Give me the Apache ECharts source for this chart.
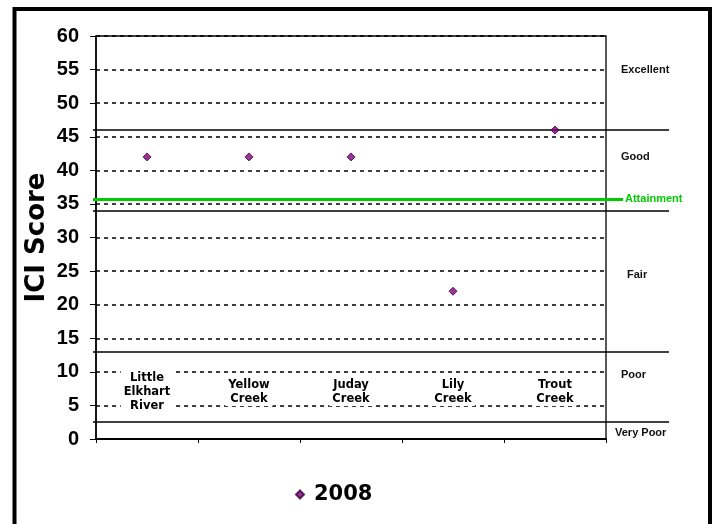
<!DOCTYPE html>
<html>
<head>
<meta charset="utf-8">
<script src="https://cdn.jsdelivr.net/npm/echarts@6/dist/echarts.min.js"></script>
<style>
html,body{margin:0;padding:0;background:#fff;}
#chart{width:712px;height:524px;}
</style>
</head>
<body>
<div id="chart"></div>
<script>
// ---- data ----
const categories = ["Little\nElkhart\nRiver", "Yellow\nCreek", "Juday\nCreek", "Lily\nCreek", "Trout\nCreek"];
const scores2008 = [42, 42, 42, 22, 46];
const seriesName = "2008";
const yTicks = [0, 5, 10, 15, 20, 25, 30, 35, 40, 45, 50, 55, 60];
const bandEdges = [46, 34, 13, 2.5];
const bandNames = ["Excellent", "Good", "Fair", "Poor", "Very Poor"];
const attainment = 35.7;
const attainmentLabel = "Attainment";
const yTitle = "ICI Score";

const chart = echarts.init(document.getElementById('chart'), null, {renderer: 'canvas'});

const bandLabelPos = [[621, 70], [621, 157], [627, 275], [621, 375], [615, 433]];

const option = {
  animation: false,
  backgroundColor: '#fff',
  grid: [
    {left: 96, top: 36, width: 510, height: 403, show: true, borderColor: '#000', borderWidth: 1.3, backgroundColor: 'transparent'},
    {left: 93, top: 36, width: 576, height: 403},
    {left: 93, top: 36, width: 530, height: 403}
  ],
  xAxis: [
    {
      gridIndex: 0, type: 'category', data: categories, boundaryGap: true, z: 5,
      axisLine: {show: true, lineStyle: {color: '#000', width: 2}},
      axisTick: {show: true, length: 4, lineStyle: {color: '#000', width: 1}},
      axisLabel: {
        interval: 0, margin: -47, verticalAlign: 'middle',
        fontFamily: 'DejaVu Sans', fontWeight: 'bold', fontSize: 11.5, lineHeight: 14,
        color: '#000', backgroundColor: '#fff', padding: [0, 3]
      },
      splitLine: {show: false}
    },
    {gridIndex: 1, type: 'value', min: 0, max: 1, show: false},
    {gridIndex: 2, type: 'value', min: 0, max: 1, show: false}
  ],
  yAxis: [
    {
      gridIndex: 0, type: 'value', min: 0, max: 60, interval: 5,
      name: yTitle, nameLocation: 'middle', nameRotate: 90, nameGap: 46, nameMoveOverlap: false,
      nameTextStyle: {fontFamily: 'DejaVu Sans', fontWeight: 'bold', fontSize: 26, color: '#000'},
      axisLine: {show: true, lineStyle: {color: '#000', width: 1.5}},
      axisTick: {show: true, length: 6, lineStyle: {color: '#000', width: 1}},
      axisLabel: {
        margin: 17, fontFamily: 'Liberation Sans', fontWeight: 'bold', fontSize: 20, color: '#000',
        formatter: v => (yTicks.indexOf(v) >= 0 ? String(v) : '')
      },
      splitLine: {show: true, lineStyle: {color: '#000', width: 1.5, type: [4, 4]}}
    },
    {gridIndex: 1, type: 'value', min: 0, max: 60, show: false},
    {gridIndex: 2, type: 'value', min: 0, max: 60, show: false}
  ],
  legend: {
    data: [seriesName],
    left: 295, top: 484, padding: 0,
    icon: 'diamond', itemWidth: 8, itemHeight: 8,
    textStyle: {fontFamily: 'DejaVu Sans', fontWeight: 'bold', fontSize: 21, color: '#000', padding: [0, 0, 0, 5]}
  },
  series: [
    {
      name: 'bands', type: 'line', xAxisIndex: 1, yAxisIndex: 1, data: [], silent: true,
      markLine: {
        silent: true, symbol: 'none',
        label: {show: false},
        lineStyle: {color: '#000', width: 1.5, type: 'solid'},
        data: bandEdges.map(v => ({yAxis: v}))
      }
    },
    {
      name: 'attain', type: 'line', xAxisIndex: 2, yAxisIndex: 2, data: [], silent: true,
      markLine: {
        silent: true, symbol: 'none',
        lineStyle: {color: '#00cc00', width: 3, type: 'solid'},
        label: {show: true, position: 'end', distance: 2, formatter: attainmentLabel,
                color: '#00cc00', fontFamily: 'Liberation Sans', fontWeight: 'bold', fontSize: 11},
        data: [{yAxis: attainment}]
      }
    },
    {
      name: seriesName, type: 'scatter', xAxisIndex: 0, yAxisIndex: 0, z: 6,
      symbol: 'diamond', symbolSize: 8,
      itemStyle: {color: '#800080', borderColor: '#3a003a', borderWidth: 1},
      data: scores2008
    }
  ],
  graphic: [
    {type: 'rect', silent: true, z: 100,
     shape: {x: 14.5, y: 9, width: 695.5, height: 600},
     style: {fill: 'none', stroke: '#000', lineWidth: 4}}
  ].concat(bandNames.map((n, i) => ({
    type: 'text', silent: true, z: 100,
    x: bandLabelPos[i][0], y: bandLabelPos[i][1],
    style: {text: n, fill: '#111', font: 'bold 11px "Liberation Sans"', textVerticalAlign: 'middle', verticalAlign: 'middle'}
  })))
};

chart.setOption(option);
</script>
</body>
</html>
